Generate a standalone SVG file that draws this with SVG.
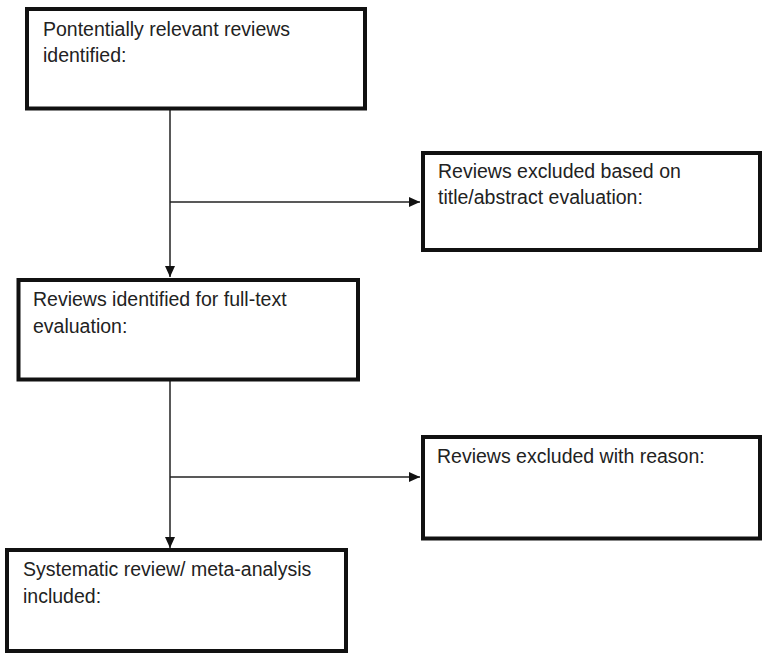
<svg xmlns="http://www.w3.org/2000/svg" width="767" height="661" viewBox="0 0 767 661">
<style>
.box{fill:#fff;stroke:#111;stroke-width:4}
.t{font-family:"Liberation Sans",Arial,sans-serif;font-size:19.5px;fill:#222}
.c{stroke:#222;stroke-width:1.5;fill:none}
</style>
<defs>
<marker id="ah" markerWidth="12" markerHeight="12" refX="11" refY="5.5" orient="auto" markerUnits="userSpaceOnUse">
<path d="M0,0.5 L11,5.5 L0,10.5 Z" fill="#111"/>
</marker>
</defs>
<rect width="767" height="661" fill="#fff"/>
<g id="connectors">
<line class="c" x1="170" y1="110" x2="170" y2="277" marker-end="url(#ah)"/>
<line class="c" x1="170" y1="202" x2="420" y2="202" marker-end="url(#ah)"/>
<line class="c" x1="170" y1="381" x2="170" y2="548" marker-end="url(#ah)"/>
<line class="c" x1="170" y1="477" x2="420" y2="477" marker-end="url(#ah)"/>
</g>
<g id="node1">
<rect class="box" x="27" y="9" width="338" height="99.5"/>
<text class="t" x="43" y="36">Pontentially relevant reviews</text>
<text class="t" x="43" y="62">identified:</text>
</g>
<g id="node2">
<rect class="box" x="423" y="153" width="337" height="97"/>
<text class="t" x="438" y="178">Reviews excluded based on</text>
<text class="t" x="438" y="204">title/abstract evaluation:</text>
</g>
<g id="node3">
<rect class="box" x="18.5" y="280" width="339.5" height="99.5"/>
<text class="t" x="33" y="306">Reviews identified for full-text</text>
<text class="t" x="33" y="333">evaluation:</text>
</g>
<g id="node4">
<rect class="box" x="423" y="437" width="337" height="101.5"/>
<text class="t" x="437" y="463">Reviews excluded with reason:</text>
</g>
<g id="node5">
<rect class="box" x="7" y="550" width="339" height="101"/>
<text class="t" x="23" y="576">Systematic review/ meta-analysis</text>
<text class="t" x="23" y="603">included:</text>
</g>
</svg>
